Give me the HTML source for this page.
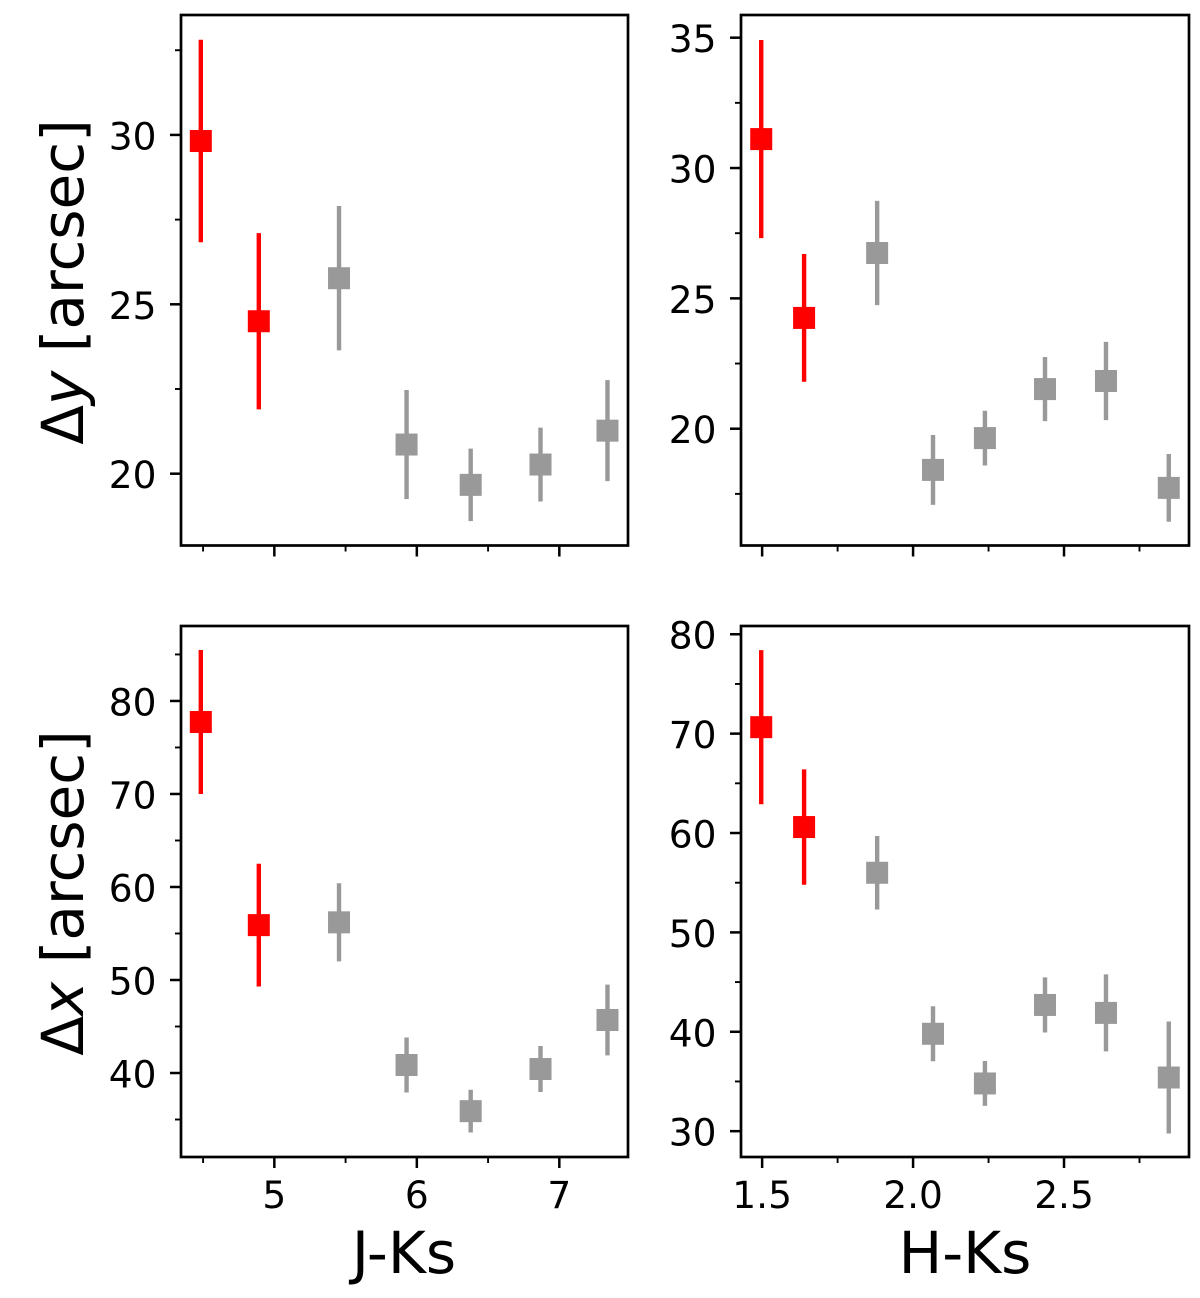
<!DOCTYPE html>
<html>
<head>
<meta charset="utf-8">
<title>Offset versus colour</title>
<style>
html,body{margin:0;padding:0;background:#fff;}
svg{display:block;}
text{font-family:"DejaVu Sans","Liberation Sans",sans-serif;fill:#000;}
</style>
</head>
<body>
<svg id="chart" xmlns="http://www.w3.org/2000/svg" width="1200" height="1298" viewBox="0 0 1200 1298">
  <rect x="0" y="0" width="1200" height="1298" fill="#fff"/>
  <text transform="translate(83,282) rotate(-90)" text-anchor="middle" font-size="58">Δ<tspan font-style="italic">y</tspan> [arcsec]</text>
  <text transform="translate(83,893) rotate(-90)" text-anchor="middle" font-size="58">Δ<tspan font-style="italic">x</tspan> [arcsec]</text>
  <text x="404" y="1273" text-anchor="middle" font-size="58">J-Ks</text>
  <text x="965" y="1273" text-anchor="middle" font-size="58">H-Ks</text>
</svg>
<script>
// Colours (x) per point
const jksValues = [4.484, 4.891, 5.454, 5.928, 6.378, 6.868, 7.338];
const hksValues = [1.497, 1.639, 1.881, 2.066, 2.238, 2.437, 2.639, 2.847];

// Panel series
const dyJks = [29.82, 24.50, 25.77, 20.86, 19.67, 20.27, 21.27];
const dyJksErr = [2.99, 2.60, 2.13, 1.61, 1.07, 1.09, 1.49];
const dyHks = [31.11, 24.25, 26.74, 18.42, 19.64, 21.52, 21.83, 17.73];
const dyHksErr = [3.80, 2.45, 2.00, 1.34, 1.05, 1.23, 1.50, 1.30];
const dxJks = [77.74, 55.9, 56.2, 40.86, 35.9, 40.43, 45.7];
const dxJksErr = [7.74, 6.6, 4.2, 2.96, 2.3, 2.47, 3.8];
const dxHks = [70.65, 60.6, 56.0, 39.8, 34.8, 42.7, 41.9, 35.4];
const dxHksErr = [7.75, 5.8, 3.7, 2.77, 2.26, 2.77, 3.87, 5.63];

// Number of leading points drawn in red
const highlightCount = 2;

// Axis ranges
const jksLimits = [4.345, 7.482];
const hksLimits = [1.43, 2.914];
const dyJksLimits = [17.88, 33.54];
const dyHksLimits = [15.52, 35.87];
const dxJksLimits = [30.97, 88.06];
const dxHksLimits = [27.4, 80.83];

// Tick values
const jksMajor = [5, 6, 7];
const jksMinor = [4.5, 5.5, 6.5];
const hksMajor = [1.5, 2.0, 2.5];
const hksMinor = [1.75, 2.25, 2.75];
const dyJksMajor = [20, 25, 30];
const dyJksMinor = [22.5, 27.5, 32.5];
const dyHksMajor = [20, 25, 30, 35];
const dyHksMinor = [17.5, 22.5, 27.5, 32.5];
const dxJksMajor = [40, 50, 60, 70, 80];
const dxJksMinor = [35, 45, 55, 65, 75, 85];
const dxHksMajor = [30, 40, 50, 60, 70, 80];
const dxHksMinor = [35, 45, 55, 65, 75];

const NS = 'http://www.w3.org/2000/svg';
const svg = document.getElementById('chart');

function make(parent, tag, attrs, text) {
  const el = document.createElementNS(NS, tag);
  for (const k in attrs) el.setAttribute(k, attrs[k]);
  if (text !== undefined) el.textContent = text;
  parent.appendChild(el);
  return el;
}

function drawPanel(p) {
  const g = make(svg, 'g', {});
  
  

  const xScale = v => p.box[0] + (v - p.xLim[0]) / (p.xLim[1] - p.xLim[0]) * (p.box[2] - p.box[0]);
  const yScale = v => p.box[3] - (v - p.yLim[0]) / (p.yLim[1] - p.yLim[0]) * (p.box[3] - p.box[1]);

  p.x.forEach((xv, i) => {
    const color = i < highlightCount ? '#ff0000' : '#999999';
    const cx = xScale(xv);
    const cy = yScale(p.y[i]);
    const bar = make(g, 'line', {
      x1: cx, x2: cx,
      y1: yScale(p.y[i] + p.err[i]),
      y2: yScale(p.y[i] - p.err[i]),
      stroke: color, 'stroke-width': 4.4
    });
    
    
    const pt = make(g, 'rect', {
      x: cx - 11, y: cy - 11, width: 22, height: 22, fill: color
    });
    
    
  });

  const frame = make(g, 'rect', {
    x: p.box[0], y: p.box[1],
    width: p.box[2] - p.box[0], height: p.box[3] - p.box[1],
    fill: 'none', stroke: '#000', 'stroke-width': 2.7
  });
  
  

  const yTick = (v, len, w) => {
    const t = make(g, 'line', {
      x1: p.box[0], x2: p.box[0] - len, y1: yScale(v), y2: yScale(v),
      stroke: '#000', 'stroke-width': w
    });
    
    
  };
  const xTick = (v, len, w) => {
    const t = make(g, 'line', {
      x1: xScale(v), x2: xScale(v), y1: p.box[3], y2: p.box[3] + len,
      stroke: '#000', 'stroke-width': w
    });
    
    
  };

  p.yMinor.forEach(v => yTick(v, 6, 1.9));
  p.xMinor.forEach(v => xTick(v, 6, 1.9));
  p.yMajor.forEach(v => {
    yTick(v, 11, 2.5);
    const lab = make(g, 'text', {
      x: p.box[0] - 24.5, y: yScale(v) + 14.5, 'text-anchor': 'end', 'font-size': 37.5
    }, String(v));
    
    
  });
  p.xMajor.forEach(v => {
    xTick(v, 11, 2.5);
    if (p.showX) {
      const lab = make(g, 'text', {
        x: xScale(v), y: 1208, 'text-anchor': 'middle', 'font-size': 37.5
      }, p.xFixed ? v.toFixed(1) : String(v));
      
      
    }
  });
}

drawPanel({name:'panel-dy-jks', box:[181,15,628,545.5], x:jksValues, y:dyJks, err:dyJksErr,
  xLim:jksLimits, yLim:dyJksLimits, xMajor:jksMajor, xMinor:jksMinor, yMajor:dyJksMajor, yMinor:dyJksMinor, showX:false});
drawPanel({name:'panel-dy-hks', box:[741,15,1189,545.5], x:hksValues, y:dyHks, err:dyHksErr,
  xLim:hksLimits, yLim:dyHksLimits, xMajor:hksMajor, xMinor:hksMinor, yMajor:dyHksMajor, yMinor:dyHksMinor, showX:false});
drawPanel({name:'panel-dx-jks', box:[181,626,628,1157], x:jksValues, y:dxJks, err:dxJksErr,
  xLim:jksLimits, yLim:dxJksLimits, xMajor:jksMajor, xMinor:jksMinor, yMajor:dxJksMajor, yMinor:dxJksMinor, showX:true, xFixed:false});
drawPanel({name:'panel-dx-hks', box:[741,626,1189,1157], x:hksValues, y:dxHks, err:dxHksErr,
  xLim:hksLimits, yLim:dxHksLimits, xMajor:hksMajor, xMinor:hksMinor, yMajor:dxHksMajor, yMinor:dxHksMinor, showX:true, xFixed:true});
</script>
</body>
</html>
